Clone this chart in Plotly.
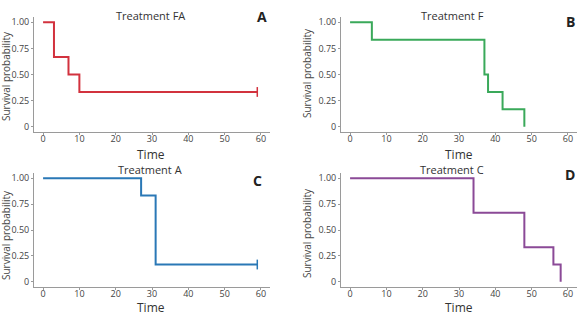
import plotly.graph_objects as go

# ---- data ----
titles = ["Treatment FA", "Treatment F", "Treatment A", "Treatment C"]
letters = ["A", "B", "C", "D"]
colors = ["#d2323e", "#3aa95a", "#2a78b6", "#8b4a97"]

fa_time = [0, 3, 7, 10, 59]
fa_surv = [1.0, 0.667, 0.5, 0.333, 0.333]
f_time = [0, 6, 37, 38, 42, 48]
f_surv = [1.0, 0.833, 0.5, 0.333, 0.167, 0.0]
a_time = [0, 27, 31, 59]
a_surv = [1.0, 0.833, 0.167, 0.167]
c_time = [0, 34, 48, 56, 58]
c_surv = [1.0, 0.667, 0.333, 0.167, 0.0]

times = [fa_time, f_time, a_time, c_time]
survs = [fa_surv, f_surv, a_surv, c_surv]
censored = [True, False, True, False]

x_ticks = [0, 10, 20, 30, 40, 50, 60]
y_ticks = [0, 0.25, 0.5, 0.75, 1.0]
y_tick_labels = ["0", "0.25", "0.50", "0.75", "1.00"]

W, H = 584, 327
boxes = [(34, 270, 17, 132), (341, 577, 17, 132),
         (34, 270, 173, 287), (341, 577, 173, 287)]
title_pos = [(150, 16), (452, 16), (150, 169), (452, 169)]
letter_pos = [(262, 17), (570, 22), (257, 180), (570, 174)]
time_pos = [(151, 154), (459, 154), (151, 307), (459, 307)]
ytitle_pos = [(6, 76), (307, 73), (6, 235), (307, 233)]


def px(x):
    return x / W


def py(y):
    return 1 - y / H


fig = go.Figure()
font = "Open Sans, Arial, sans-serif"

for i in range(4):
    xa = "x" if i == 0 else f"x{i+1}"
    ya = "y" if i == 0 else f"y{i+1}"
    fig.add_trace(go.Scatter(x=times[i], y=survs[i], mode="lines",
                             line=dict(color=colors[i], width=2, shape="hv"),
                             xaxis=xa, yaxis=ya, showlegend=False, hoverinfo="skip"))
    if censored[i]:
        fig.add_trace(go.Scatter(x=[times[i][-1]], y=[survs[i][-1]], mode="markers",
                                 marker=dict(symbol="line-ns", size=7,
                                             line=dict(color=colors[i], width=1.5)),
                                 xaxis=xa, yaxis=ya, showlegend=False, hoverinfo="skip"))
    l, r, t, b = boxes[i]
    xk = "xaxis" if i == 0 else f"xaxis{i+1}"
    yk = "yaxis" if i == 0 else f"yaxis{i+1}"
    fig.layout[xk] = dict(domain=[px(l), px(r)], range=[-2.5, 62.5],
                          tickvals=x_ticks, showgrid=False, zeroline=False,
                          showline=True, linecolor="#9a9a9a", linewidth=1,
                          ticks="outside", ticklen=2, tickcolor="#9a9a9a",
                          ticklabelstandoff=-4,
                          tickfont=dict(family=font, size=9, color="#444"),
                          anchor=ya, automargin=False, fixedrange=True)
    fig.layout[yk] = dict(domain=[py(b), py(t)], range=[-0.05, 1.05],
                          tickvals=y_ticks, ticktext=y_tick_labels,
                          showgrid=False, zeroline=False,
                          showline=True, linecolor="#9a9a9a", linewidth=1,
                          ticks="outside", ticklen=2, tickcolor="#9a9a9a",
                          tickfont=dict(family=font, size=9, color="#444"),
                          anchor=xa, automargin=False, fixedrange=True)
    tx, ty = title_pos[i]
    fig.add_annotation(x=px(tx), y=py(ty), xref="paper", yref="paper",
                       text=titles[i], showarrow=False, xanchor="center", yanchor="middle",
                       font=dict(family=font, size=11, color="#333"))
    lx, ly = letter_pos[i]
    fig.add_annotation(x=px(lx), y=py(ly), xref="paper", yref="paper",
                       text=f"<b>{letters[i]}</b>", showarrow=False, xanchor="center",
                       yanchor="middle", font=dict(family=font, size=14, color="#222"))
    tx, ty = time_pos[i]
    fig.add_annotation(x=px(tx), y=py(ty), xref="paper", yref="paper",
                       text="Time", showarrow=False, xanchor="center", yanchor="middle",
                       font=dict(family=font, size=12, color="#333"))
    tx, ty = ytitle_pos[i]
    fig.add_annotation(x=px(tx), y=py(ty), xref="paper", yref="paper",
                       text="Survival probability", showarrow=False, textangle=-90,
                       xanchor="center", yanchor="middle",
                       font=dict(family=font, size=10, color="#444"))

fig.update_layout(width=W, height=H, margin=dict(l=0, r=0, t=0, b=0),
                  paper_bgcolor="white", plot_bgcolor="white")

fig.write_html("out.html", config={"displayModeBar": False, "staticPlot": True},
               post_script="document.body.style.margin='0';document.body.style.padding='0';")
